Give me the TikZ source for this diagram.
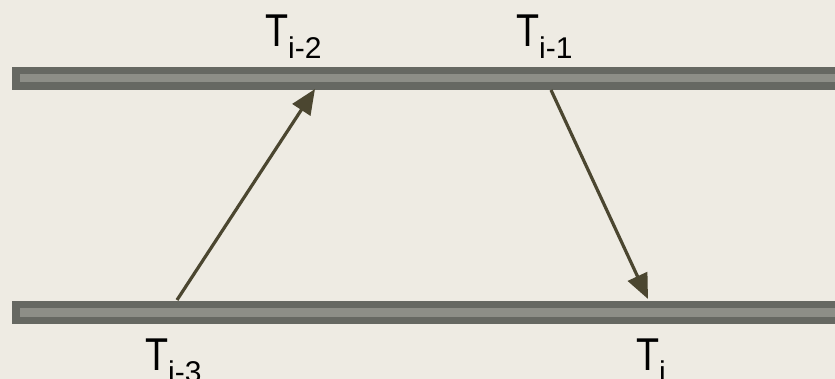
\documentclass[tikz,border=0pt]{standalone}
\usepackage{fontspec}
\setmainfont{Liberation Sans}
\usetikzlibrary{arrows.meta}
\definecolor{bg}{HTML}{EEEBE3}
\definecolor{barout}{HTML}{666862}
\definecolor{barin}{HTML}{8D8E87}
\definecolor{arr}{HTML}{4B4630}
\newcommand{\tlabel}[1]{\scalebox{0.82}[1]{\fontsize{46}{46}\selectfont T}\raisebox{-12pt}{\fontsize{30}{30}\selectfont #1}}
\tikzset{
  lbl/.style={anchor=base west, inner sep=0pt, text=black},
  msg/.style={draw=arr, line width=3.2pt, -{Triangle[length=25pt,width=21pt]}, arr}
}
\begin{document}
\begin{tikzpicture}[x=1pt,y=-1pt]
\useasboundingbox (0,0) rectangle (835,379);
\fill[bg] (0,0) rectangle (835,379);
% bars
\fill[barout] (12,67) rectangle (835,90);
\fill[barin] (20,74.5) rectangle (835,82.5);
\fill[barout] (12,301) rectangle (835,324);
\fill[barin] (20,308.3) rectangle (835,316.5);
% labels
\node[lbl] (t2) at (265,47) {\tlabel{i-2}};
\node[lbl] (t1) at (516,47) {\tlabel{i-1}};
\node[lbl] (t3) at (145,370) {\tlabel{i-3}};
\node[lbl] (t0) at (636,370) {\tlabel{i}};
% endpoints
\coordinate (a1) at (177,300);
\coordinate (b1) at (315,89);
\coordinate (a2) at (551,90);
\coordinate (b2) at (648,299);
\draw[msg] (a1) -- (b1);
\draw[msg] (a2) -- (b2);
\end{tikzpicture}
\end{document}
